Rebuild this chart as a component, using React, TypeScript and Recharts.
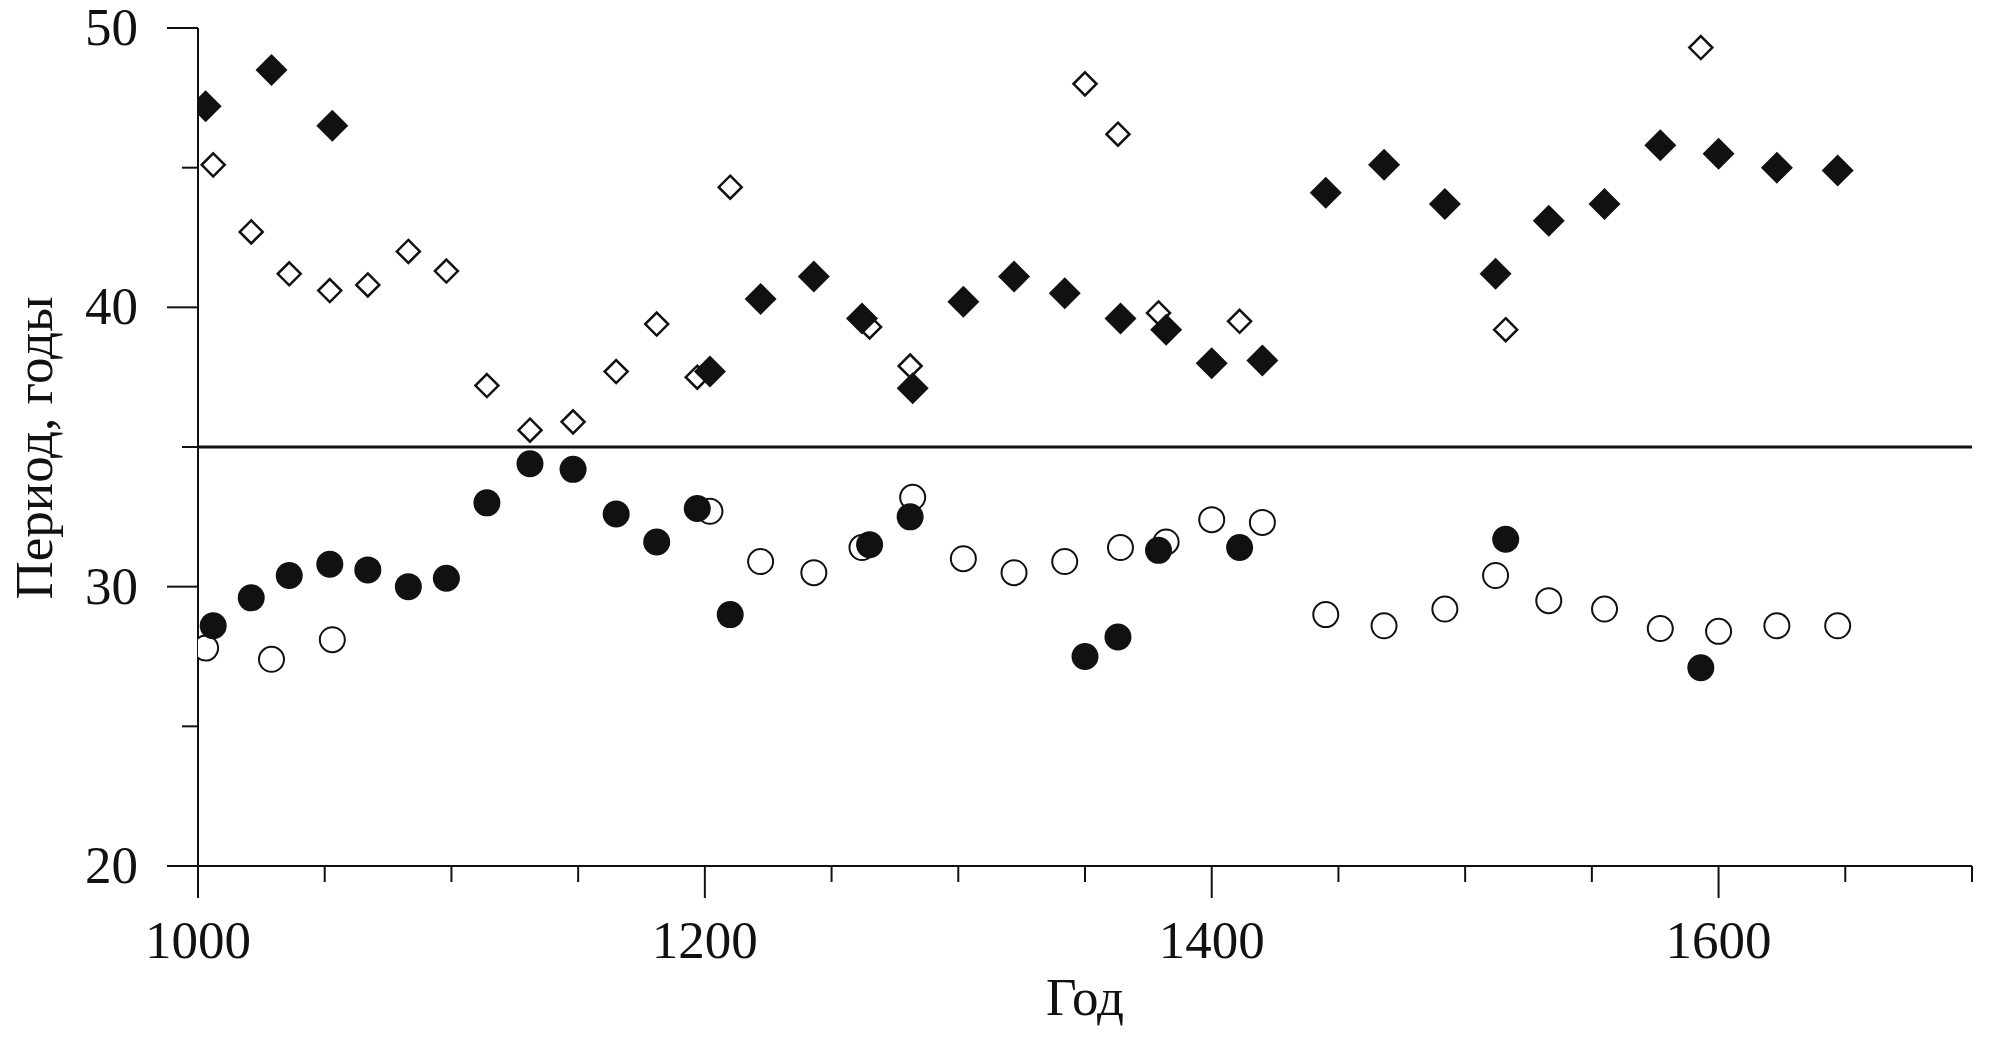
import { ReferenceLine, Scatter, ScatterChart, XAxis, YAxis } from 'recharts';

// годы для пары "залитый ромб / пустой кружок"
const YEARS_A = [1003, 1029, 1053, 1202, 1222, 1243, 1262, 1282, 1302, 1322, 1342, 1364, 1382, 1400, 1420, 1445, 1468, 1492, 1512, 1533, 1555, 1577, 1600, 1623, 1647];
const FILLED_DIAMOND = [47.2, 48.5, 46.5, 37.7, 40.3, 41.1, 39.6, 37.1, 40.2, 41.1, 40.5, 39.6, 39.2, 38.0, 38.1, 44.1, 45.1, 43.7, 41.2, 43.1, 43.7, 45.8, 45.5, 45.0, 44.9];
const OPEN_CIRCLE = [27.8, 27.4, 28.1, 32.7, 30.9, 30.5, 31.4, 33.2, 31.0, 30.5, 30.9, 31.4, 31.6, 32.4, 32.3, 29.0, 28.6, 29.2, 30.4, 29.5, 29.2, 28.5, 28.4, 28.6, 28.6];

// годы для пары "пустой ромб / залитый кружок"
const YEARS_B = [1006, 1021, 1036, 1052, 1067, 1083, 1098, 1114, 1131, 1148, 1165, 1181, 1197, 1210, 1265, 1281, 1350, 1363, 1379, 1411, 1516, 1593];
const OPEN_DIAMOND = [45.1, 42.7, 41.2, 40.6, 40.8, 42.0, 41.3, 37.2, 35.6, 35.9, 37.7, 39.4, 37.5, 44.3, 39.3, 37.9, 48.0, 46.2, 39.8, 39.5, 39.2, 49.3];
const FILLED_CIRCLE = [28.6, 29.6, 30.4, 30.8, 30.6, 30.0, 30.3, 33.0, 34.4, 34.2, 32.6, 31.6, 32.8, 29.0, 31.5, 32.5, 27.5, 28.2, 31.3, 31.4, 31.7, 27.1];

const X_TICKS = [1000, 1050, 1100, 1150, 1200, 1250, 1300, 1350, 1400, 1450, 1500, 1550, 1600, 1650, 1700];
const X_LABELS = [1000, 1200, 1400, 1600];
const Y_TICKS = [20, 25, 30, 35, 40, 45, 50];
const Y_LABELS = [20, 30, 40, 50];
const THRESHOLD = 35;

const INK = '#111';
const FONT = '"Liberation Serif", "Times New Roman", serif';
const FONT_SIZE = 53;

const toPoints = (xs: number[], ys: number[]) => xs.map((x, i) => ({ x, y: ys[i] }));

const XTick = (props: any) => {
    const { x, y, payload } = props;
    const major = X_LABELS.includes(payload.value);
    return (
        <g>
            <line x1={x} x2={x} y1={y} y2={y + (major ? 32 : 16)} stroke={INK} strokeWidth={2} />
            {major && (
                <text x={x} y={y + 92} textAnchor="middle" fontSize={FONT_SIZE} fontFamily={FONT} fill={INK}>
                    {payload.value}
                </text>
            )}
        </g>
    );
};

const YTick = (props: any) => {
    const { x, y, payload } = props;
    const major = Y_LABELS.includes(payload.value);
    return (
        <g>
            <line x1={x - (major ? 31 : 16)} x2={x} y1={y} y2={y} stroke={INK} strokeWidth={2} />
            {major && (
                <text x={x - 60} y={y + 17} textAnchor="end" fontSize={FONT_SIZE} fontFamily={FONT} fill={INK}>
                    {payload.value}
                </text>
            )}
        </g>
    );
};

const diamondPath = (cx: number, cy: number, r: number) =>
    `M${cx},${cy - r}L${cx + r},${cy}L${cx},${cy + r}L${cx - r},${cy}Z`;

const FilledDiamond = (p: any) => <path d={diamondPath(p.cx, p.cy, 16)} fill={INK} />;
const OpenDiamond = (p: any) => (
    <path d={diamondPath(p.cx, p.cy, 11.5)} fill="#fff" stroke={INK} strokeWidth={2.5} />
);
const FilledCircle = (p: any) => <circle cx={p.cx} cy={p.cy} r={13.5} fill={INK} />;
const OpenCircle = (p: any) => <circle cx={p.cx} cy={p.cy} r={12.5} fill="#fff" stroke={INK} strokeWidth={2} />;

export default function App() {
    return (
        <div style={{ position: 'absolute', left: 0, top: 0, width: 2008, height: 1049, background: '#fff' }}>
            <ScatterChart width={2008} height={1049} margin={{ top: 28, right: 36, bottom: 0, left: 0 }}>
                <XAxis
                    type="number"
                    dataKey="x"
                    domain={[1000, 1700]}
                    ticks={X_TICKS}
                    interval={0}
                    height={183}
                    tickSize={0}
                    tickMargin={0}
                    tickLine={false}
                    axisLine={{ stroke: INK, strokeWidth: 2 }}
                    tick={(p: any) => <XTick {...p} />}
                    allowDataOverflow
                />
                <YAxis
                    type="number"
                    dataKey="y"
                    domain={[20, 50]}
                    ticks={Y_TICKS}
                    interval={0}
                    width={198}
                    tickSize={0}
                    tickMargin={0}
                    tickLine={false}
                    axisLine={{ stroke: INK, strokeWidth: 2 }}
                    tick={(p: any) => <YTick {...p} />}
                    allowDataOverflow
                />
                <ReferenceLine y={THRESHOLD} stroke={INK} strokeWidth={3} />
                <Scatter data={toPoints(YEARS_B, OPEN_DIAMOND)} shape={OpenDiamond} isAnimationActive={false} />
                <Scatter data={toPoints(YEARS_A, OPEN_CIRCLE)} shape={OpenCircle} isAnimationActive={false} />
                <Scatter data={toPoints(YEARS_A, FILLED_DIAMOND)} shape={FilledDiamond} isAnimationActive={false} />
                <Scatter data={toPoints(YEARS_B, FILLED_CIRCLE)} shape={FilledCircle} isAnimationActive={false} />
                <text x={52} y={448} transform="rotate(-90, 52, 448)" textAnchor="middle" fontSize={FONT_SIZE} fontFamily={FONT} fill={INK}>
                    Период, годы
                </text>
                <text x={1085} y={1015} textAnchor="middle" fontSize={FONT_SIZE} fontFamily={FONT} fill={INK}>
                    Год
                </text>
            </ScatterChart>
        </div>
    );
}
